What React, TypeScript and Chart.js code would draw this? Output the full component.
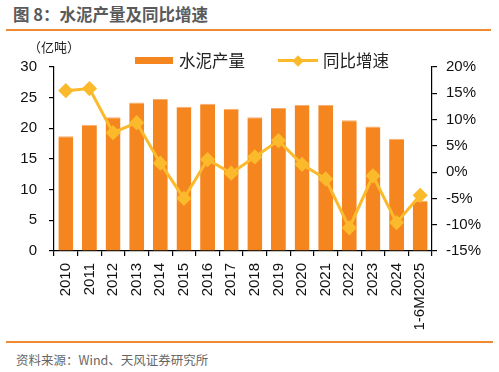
import React, { useEffect, useRef } from "react";
import { Chart, registerables } from "chart.js";

Chart.register(...registerables);

const categories = ["2010","2011","2012","2013","2014","2015","2016","2017","2018","2019","2020","2021","2022","2023","2024","1-6M2025"];
const output = [18.7, 20.6, 21.8, 24.2, 24.8, 23.5, 24.0, 23.2, 21.8, 23.3, 23.8, 23.8, 21.3, 20.3, 18.3, 8.2];
const growth = [15.5, 15.9, 7.5, 9.4, 1.7, -5.0, 2.4, -0.2, 2.9, 6.0, 1.5, -1.3, -10.6, -0.7, -9.6, -4.4];
const leftTicks = [0, 30, 5];
const rightTicks = [-15, 20, 5];

const BAR = "#F5861F";
const LINE = "#FBBA2C";
const FONT = "'Liberation Sans', Arial, sans-serif";
const CJK = "'Noto Sans CJK SC', sans-serif";

export default function App() {
  const ref = useRef<HTMLCanvasElement | null>(null);
  useEffect(() => {
    document.body.style.margin = "0";
    const canvas = ref.current!;
    const chart = new Chart(canvas, {
      type: "bar",
      data: {
        labels: categories,
        datasets: [
          {
            type: "line",
            label: "同比增速",
            data: growth,
            yAxisID: "y1",
            borderColor: LINE,
            backgroundColor: LINE,
            borderWidth: 3,
            pointStyle: "rectRot",
            pointRadius: 5.5,
            pointBackgroundColor: LINE,
            pointBorderColor: LINE,
            tension: 0,
            order: 0,
          } as any,
          {
            type: "bar",
            label: "水泥产量",
            data: output,
            yAxisID: "y",
            backgroundColor: BAR,
            borderColor: "#F8AE6E",
            borderWidth: { top: 1, left: 0, right: 0, bottom: 0 },
            borderSkipped: false,
            categoryPercentage: 1,
            barPercentage: 0.63,
            order: 1,
          } as any,
        ],
      },
      options: {
        animation: false,
        responsive: false,
        maintainAspectRatio: false,
        layout: { padding: { top: 27, left: 0, right: 0, bottom: 0 } },
        plugins: { legend: { display: false }, tooltip: { enabled: false } },
        scales: {
          x: {
            offset: true,
            grid: { display: true, offset: true, drawOnChartArea: false, drawTicks: true, tickLength: 5, color: "#000", lineWidth: 1.2 },
            border: { display: true, color: "#000", width: 1.2 },
            ticks: { minRotation: 90, maxRotation: 90, autoSkip: false, padding: 7, color: "#111", font: { family: FONT, size: 15 } },
            afterFit: (s: any) => { s.height = 300 - 27 - 184 - 0; },
          },
          y: {
            position: "left",
            min: leftTicks[0],
            max: leftTicks[1],
            ticks: { stepSize: leftTicks[2], padding: 12, color: "#111", font: { family: FONT, size: 15 } },
            grid: { display: true, drawOnChartArea: false, drawTicks: true, tickLength: 5, color: "#000", lineWidth: 1.2 },
            border: { display: true, color: "#000", width: 1.2 },
            afterFit: (s: any) => { s.width = 54; },
          },
          y1: {
            position: "right",
            min: rightTicks[0],
            max: rightTicks[1],
            ticks: { stepSize: rightTicks[2], padding: 9, color: "#111", font: { family: FONT, size: 15 }, callback: (v: any) => v + "%" },
            grid: { display: true, drawOnChartArea: false, drawTicks: true, tickLength: 5, color: "#000", lineWidth: 1.2 },
            border: { display: true, color: "#000", width: 1.2 },
            afterFit: (s: any) => { s.width = 67; },
          },
        },
      },
    });
    return () => chart.destroy();
  }, []);

  return (
    <div style={{ position: "relative", width: 499, height: 372, background: "#fff", overflow: "hidden" }}>
      <div style={{ position: "absolute", left: 13, top: 3, fontFamily: CJK, fontSize: 16.5, fontWeight: 700, color: "#5a5a5a", whiteSpace: "nowrap", lineHeight: "22px" }}>
        图 8：水泥产量及同比增速
      </div>
      <div style={{ position: "absolute", left: 6, top: 29, width: 485, height: 2, background: "#F08A33" }} />
      <canvas ref={ref} width={499} height={300} style={{ position: "absolute", left: 0, top: 40, width: 499, height: 300 }} />
      <div style={{ position: "absolute", left: 28, top: 38, fontFamily: CJK, fontSize: 13, color: "#222", whiteSpace: "nowrap", lineHeight: "18px" }}>
        （亿吨）
      </div>
      <div style={{ position: "absolute", left: 135, top: 57, width: 38, height: 7, background: BAR }} />
      <div style={{ position: "absolute", left: 179, top: 49, fontFamily: CJK, fontSize: 16.5, color: "#222", whiteSpace: "nowrap", lineHeight: "22px" }}>
        水泥产量
      </div>
      <div style={{ position: "absolute", left: 278, top: 59, width: 40, height: 3, background: LINE }} />
      <div style={{ position: "absolute", left: 294, top: 56.5, width: 8, height: 8, background: LINE, transform: "rotate(45deg)" }} />
      <div style={{ position: "absolute", left: 323, top: 49, fontFamily: CJK, fontSize: 16.5, color: "#222", whiteSpace: "nowrap", lineHeight: "22px" }}>
        同比增速
      </div>
      <div style={{ position: "absolute", left: 6, top: 341, width: 487, height: 2, background: "#F08A33" }} />
      <div style={{ position: "absolute", left: 16, top: 351, fontFamily: CJK, fontSize: 12.5, color: "#666", whiteSpace: "nowrap", lineHeight: "18px" }}>
        资料来源：Wind、天风证券研究所
      </div>
    </div>
  );
}
